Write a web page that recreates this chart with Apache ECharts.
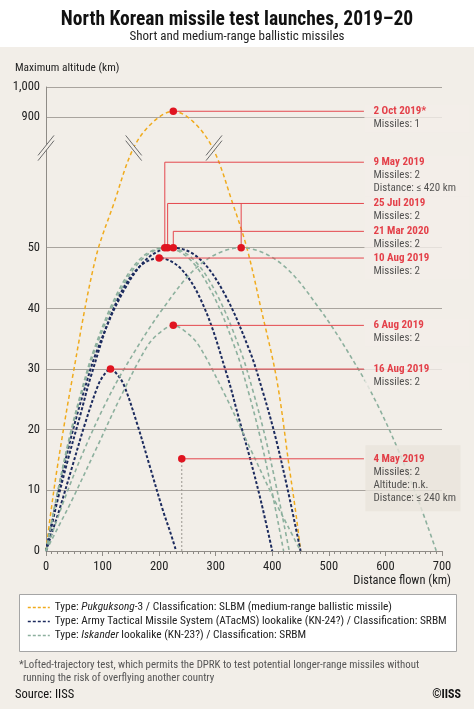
<!DOCTYPE html>
<html>
<head>
<meta charset="utf-8">
<script src="https://cdn.jsdelivr.net/npm/echarts@6.0.0/dist/echarts.min.js"></script>
<style>
html,body{margin:0;padding:0;background:#fff;}
#c{width:474px;height:709px;}
</style>
</head>
<body>
<div id="c"></div>
<script>
// ---------------- DATA ----------------
// Missile types (legend)
const typeNames = ['Pukguksong-3', 'ATacMS lookalike', 'Iskander lookalike'];

// Trajectories: distance flown (km) and altitude (km)
const pk3_2oct_x   = [0, 8, 20, 46, 87, 120, 155, 190, 225, 260, 296, 330, 355, 380, 408, 430, 442, 450];
const pk3_2oct_alt = [0, 6, 13.8, 28.2, 48, 339, 702, 872, 920, 872, 690, 339, 50, 40, 28.2, 13.8, 6, 0];

const kn24_16aug_x   = [0, 11.5, 23, 46, 69, 92, 103, 114, 126, 138, 161, 184, 207, 219, 230];
const kn24_16aug_alt = [0, 3.3, 6.6, 13.8, 21, 27.3, 29.1, 30, 29.1, 27.3, 21, 13.8, 6.6, 3.3, 0];

const kn24_10aug_x   = [0, 20, 40, 60, 80, 120, 160, 200, 240, 280, 320, 340, 360, 380, 400];
const kn24_10aug_alt = [0, 8.2, 15.5, 22.2, 29, 40.1, 46.4, 48.3, 46.4, 40.1, 29, 22.2, 15.5, 8.2, 0];

const kn24_21mar_x   = [0, 22.5, 45, 67.5, 90, 135, 180, 225, 270, 315, 360, 382.5, 405, 427.5, 450];
const kn24_21mar_alt = [0, 10, 19, 26.5, 33, 42.5, 48.3, 50, 48.3, 42.5, 33, 26.5, 19, 10, 0];

const kn23_9may_x   = [0, 21, 42, 63, 84, 126, 168, 210, 252, 294, 336, 357, 378, 399, 420];
const kn23_9may_alt = [0, 10, 19, 26.5, 33, 42.5, 48.3, 50, 48.3, 42.5, 33, 26.5, 19, 10, 0];

const kn23_25julA_x   = [0, 21.5, 43, 64.5, 86, 129, 172, 215, 258, 301, 344, 365.5, 387, 408.5, 430];
const kn23_25julA_alt = [0, 10, 19, 26.5, 33, 42.5, 48.3, 50, 48.3, 42.5, 33, 26.5, 19, 10, 0];

const kn23_25julB_x   = [0, 34.5, 69, 103.5, 138, 207, 276, 345, 414, 483, 552, 586.5, 621, 655.5, 690];
const kn23_25julB_alt = [0, 9, 17, 24, 30, 40, 47.5, 50, 47.5, 40, 30, 24, 17, 9, 0];

const kn23_6aug_x   = [0, 22.5, 45, 90, 135, 180, 202.5, 225, 247.5, 270, 315, 360, 405, 427.5, 450];
const kn23_6aug_alt = [0, 4.1, 8.2, 17.1, 26, 33.9, 36.1, 37.2, 36.1, 33.9, 26, 17.1, 8.2, 4.1, 0];

// Launch annotations
const annDates    = ['2 Oct 2019*', '9 May 2019', '25 Jul 2019', '21 Mar 2020', '10 Aug 2019', '6 Aug 2019', '16 Aug 2019', '4 May 2019'];
const annMissiles = [1, 2, 2, 2, 2, 2, 2, 2];
const annExtra    = [[], ['Distance: \u2264 420 km'], [], [], [], [], [], ['Altitude: n.k.', 'Distance: \u2264 240 km']];
const annApogeeX  = [[225], [210], [215, 345], [225], [200], [225], [114], [240]];
const annApogeeAlt= [[920], [50], [50, 50], [50], [48.3], [37.2], [30], [15.2]];

// Axis ticks
const xTicks = [0, 100, 200, 300, 400, 500, 600, 700];
const yTickLabels = [0, 10, 20, 30, 40, 50, 900, 1000];
const breakAlt = 700; // where the break symbols sit (inside the broken span)
const breakMarkX = [0, 155, 297];

// ---------------- AXIS BREAK SCALE (50 -> 900 km compressed) ----------------
const LOW_TOP = 50, HIGH_BOTTOM = 900, DISP_HIGH = 71.5, UPPER_SLOPE = 0.05;
function disp(a) {
  if (a <= LOW_TOP) return a;
  if (a < HIGH_BOTTOM) return LOW_TOP + (a - LOW_TOP) * (DISP_HIGH - LOW_TOP) / (HIGH_BOTTOM - LOW_TOP);
  return DISP_HIGH + (a - HIGH_BOTTOM) * UPPER_SLOPE;
}
const yTickDisp = yTickLabels.map(disp);
const Y_MAX = disp(1000);

// ---------------- STYLE / LAYOUT ----------------
const FONT = '"Liberation Sans Narrow","Roboto Condensed","DejaVu Sans Condensed","Arial Narrow",sans-serif';
const BG = '#f2eee8';
const RED = '#e01420';
const RED_LINE = '#e4474d';
const GRID_C = '#a9a49e';
const typeColors = ['#f0ab1d', '#1c2b5e', '#8db09e'];
const typeDash = [[4, 3], [3, 2], [4, 3]];
const typeWidth = [1.5, 2, 1.6];
const LABEL_X = 562;                              // where connectors end / labels start (km)
const annLabelDisp = [null, 64.1, 57.3, 52.7, null, null, null, null];  // label heights for elbow connectors

const legendText = {
  'Pukguksong-3': '{t|Type: }{i|Pukguksong}{t|-3 / Classification: SLBM (medium-range ballistic missile)}',
  'ATacMS lookalike': '{t|Type: Army Tactical Missile System (ATacMS) lookalike (KN-24?) / Classification: SRBM}',
  'Iskander lookalike': '{t|Type: }{i|Iskander}{t| lookalike (KN-23?) / Classification: SRBM}'
};

const trajectories = [
  [0, pk3_2oct_x, pk3_2oct_alt],
  [1, kn24_16aug_x, kn24_16aug_alt],
  [1, kn24_10aug_x, kn24_10aug_alt],
  [1, kn24_21mar_x, kn24_21mar_alt],
  [2, kn23_9may_x, kn23_9may_alt],
  [2, kn23_25julA_x, kn23_25julA_alt],
  [2, kn23_25julB_x, kn23_25julB_alt],
  [2, kn23_6aug_x, kn23_6aug_alt]
];

const series = [];
trajectories.forEach(function (t) {
  const ti = t[0];
  series.push({
    type: 'line',
    name: typeNames[ti],
    data: t[1].map(function (x, i) { return [x, disp(t[2][i])]; }),
    smooth: 0.35,
    symbol: 'none',
    z: 2,
    color: typeColors[ti],
    lineStyle: { color: typeColors[ti], width: typeWidth[ti], type: typeDash[ti] },
    itemStyle: { color: typeColors[ti] }
  });
});

// connectors
const connectorData = [];
const dotData = [];
const labelData = [];
annDates.forEach(function (d, i) {
  const xs = annApogeeX[i], as = annApogeeAlt[i];
  const d0 = disp(as[0]);
  const level = annLabelDisp[i] != null ? annLabelDisp[i] : d0;
  if (annLabelDisp[i] != null) {
    connectorData.push({ coords: [[xs[0], d0], [xs[0], level], [LABEL_X, level]] });
  } else {
    connectorData.push({ coords: [[xs[0], d0], [LABEL_X, level]] });
  }
  for (let j = 1; j < xs.length; j++) {
    connectorData.push({ coords: [[xs[j], level], [xs[j], disp(as[j])]] });
  }
  xs.forEach(function (x, j) { dotData.push([x, disp(as[j])]); });
  const lines = ['{d|' + d + '}', '{m|Missiles: ' + annMissiles[i] + '}'].concat(annExtra[i].map(function (e) { return '{m|' + e + '}'; }));
  const isBox = (i === 7);
  labelData.push({
    value: [LABEL_X, level],
    label: {
      show: true,
      position: 'right',
      distance: 0,
      align: 'left',
      verticalAlign: 'top',
      offset: isBox ? [1, -13.5] : [0, -6.5],
      formatter: lines.join('\n'),
      backgroundColor: isBox ? '#e9e3db' : BG,
      padding: isBox ? [7, 6, 7, 8] : [0, 4, 2, 9],
      width: isBox ? 81 : 92
    }
  });
});

series.push({
  type: 'lines',
  coordinateSystem: 'cartesian2d',
  polyline: true,
  silent: true,
  z: 3,
  lineStyle: { color: RED_LINE, width: 1, opacity: 1 },
  data: connectorData
});
// 4 May: dotted stem to the distance axis
series.push({
  type: 'lines',
  coordinateSystem: 'cartesian2d',
  polyline: true,
  silent: true,
  z: 3,
  lineStyle: { color: '#9a9690', width: 1, type: [2, 2], opacity: 1 },
  data: [{ coords: [[annApogeeX[7][0], 0], [annApogeeX[7][0], disp(annApogeeAlt[7][0])]] }]
});
series.push({
  type: 'scatter',
  silent: true,
  z: 4,
  symbolSize: 7.5,
  itemStyle: { color: RED, opacity: 1 },
  data: dotData
});
series.push({
  type: 'scatter',
  silent: true,
  z: 6,
  symbolSize: 1,
  itemStyle: { color: 'rgba(0,0,0,0)' },
  label: {
    rich: {
      d: { fontFamily: FONT, fontSize: 11, fontWeight: 'bold', color: RED, lineHeight: 13 },
      m: { fontFamily: FONT, fontSize: 11, color: '#2b2b2b', lineHeight: 13 }
    }
  },
  data: labelData
});
// axis-break symbols
series.push({
  type: 'custom',
  silent: true,
  clip: false,
  z: 7,
  data: breakMarkX.map(function (x, i) { return [x, disp(breakAlt), i === 1 ? -1 : 1]; }),
  renderItem: function (params, api) {
    const p = api.coord([api.value(0), api.value(1)]);
    const s = api.value(2); // 1 => "/", -1 => "\"
    const hw = 8, hh = 10, off = 2.6;
    const a1 = [p[0] - hw, p[1] + s * hh - off], b1 = [p[0] + hw, p[1] - s * hh - off];
    const a2 = [p[0] - hw, p[1] + s * hh + off], b2 = [p[0] + hw, p[1] - s * hh + off];
    return {
      type: 'group',
      children: [
        { type: 'polygon', shape: { points: [a1, b1, b2, a2] }, style: { fill: BG } },
        { type: 'line', shape: { x1: a1[0], y1: a1[1], x2: b1[0], y2: b1[1] }, style: { stroke: '#6b6b6b', lineWidth: 1 } },
        { type: 'line', shape: { x1: a2[0], y1: a2[1], x2: b2[0], y2: b2[1] }, style: { stroke: '#6b6b6b', lineWidth: 1 } }
      ]
    };
  }
});

const option = {
  animation: false,
  backgroundColor: '#ffffff',
  textStyle: { fontFamily: FONT },
  grid: { left: 46, right: 32, top: 87, bottom: 158, containLabel: false },
  xAxis: {
    type: 'value',
    min: xTicks[0], max: xTicks[xTicks.length - 1], interval: 100,
    axisLine: { show: true, lineStyle: { color: '#8f8b86', width: 1 } },
    axisTick: { show: true, inside: false, length: 5, lineStyle: { color: '#8f8b86' } },
    minorTick: { show: true, splitNumber: 10, length: 3, lineStyle: { color: '#8f8b86' } },
    splitLine: { show: false },
    axisLabel: { color: '#222', fontSize: 12.5, fontFamily: FONT, margin: 9 }
  },
  yAxis: {
    type: 'value',
    min: 0, max: Y_MAX,
    axisLine: { show: true, lineStyle: { color: '#8f8b86', width: 1 } },
    axisTick: { show: false, customValues: yTickDisp },
    axisLabel: {
      customValues: yTickDisp,
      color: '#222', fontSize: 12.5, fontFamily: FONT, margin: 6,
      formatter: function (v) {
        for (let i = 0; i < yTickDisp.length; i++) {
          if (Math.abs(yTickDisp[i] - v) < 1e-6) return yTickLabels[i].toLocaleString('en-US');
        }
        return '';
      }
    },
    splitLine: { show: true, lineStyle: { color: GRID_C, width: 1 } }
  },
  legend: {
    orient: 'vertical',
    left: 27, top: 602,
    padding: 0,
    itemGap: 3,
    itemWidth: 22, itemHeight: 12,
    selectedMode: false,
    data: typeNames.map(function (n, i) {
      return {
        name: n,
        itemStyle: { opacity: 0 },
        lineStyle: { color: typeColors[i], type: [3, 2], width: 1.6, opacity: 1 }
      };
    }),
    formatter: function (name) { return legendText[name]; },
    textStyle: {
      fontFamily: FONT, fontSize: 11.4, color: '#222',
      rich: {
        t: { fontFamily: FONT, fontSize: 11.4, color: '#222' },
        i: { fontFamily: FONT, fontSize: 11.4, color: '#222', fontStyle: 'italic' }
      }
    }
  },
  graphic: [
    { type: 'rect', silent: true, z: -10, shape: { x: 0, y: 47, width: 474, height: 662 }, style: { fill: BG } },
    { type: 'rect', silent: true, z: -9, shape: { x: 19.5, y: 594.5, width: 437, height: 57 }, style: { fill: '#ffffff', stroke: '#a5a5a5', lineWidth: 1 } },
    { type: 'text', silent: true, x: 237, y: 20, style: { text: 'North Korean missile test launches, 2019\u201320', fontFamily: FONT, fontSize: 19.5, fontWeight: 'bold', fill: '#111', align: 'center', verticalAlign: 'middle' } },
    { type: 'text', silent: true, x: 237, y: 36.5, style: { text: 'Short and medium-range ballistic missiles', fontFamily: FONT, fontSize: 13, fill: '#222', align: 'center', verticalAlign: 'middle' } },
    { type: 'text', silent: true, x: 15, y: 68, style: { text: 'Maximum altitude (km)', fontFamily: FONT, fontSize: 11.4, fill: '#222', align: 'left', verticalAlign: 'middle' } },
    { type: 'text', silent: true, x: 451, y: 581, style: { text: 'Distance flown (km)', fontFamily: FONT, fontSize: 12.4, fill: '#222', align: 'right', verticalAlign: 'middle' } },
    { type: 'text', silent: true, x: 19, y: 665, style: { text: '*Lofted-trajectory test, which permits the DPRK to test potential longer-range missiles without', fontFamily: FONT, fontSize: 10.85, fill: '#555', align: 'left', verticalAlign: 'middle' } },
    { type: 'text', silent: true, x: 23, y: 678, style: { text: 'running the risk of overflying another country', fontFamily: FONT, fontSize: 10.85, fill: '#555', align: 'left', verticalAlign: 'middle' } },
    { type: 'text', silent: true, x: 15, y: 695, style: { text: 'Source: IISS', fontFamily: FONT, fontSize: 12.5, fill: '#111', align: 'left', verticalAlign: 'middle' } },
    { type: 'text', silent: true, x: 461, y: 695, style: { text: '\u00a9IISS', fontFamily: FONT, fontSize: 12, fontWeight: 'bold', fill: '#111', align: 'right', verticalAlign: 'middle' } }
  ],
  series: series
};

const chart = echarts.init(document.getElementById('c'), null, { renderer: 'canvas', width: 474, height: 709 });
chart.setOption(option);
</script>
</body>
</html>
